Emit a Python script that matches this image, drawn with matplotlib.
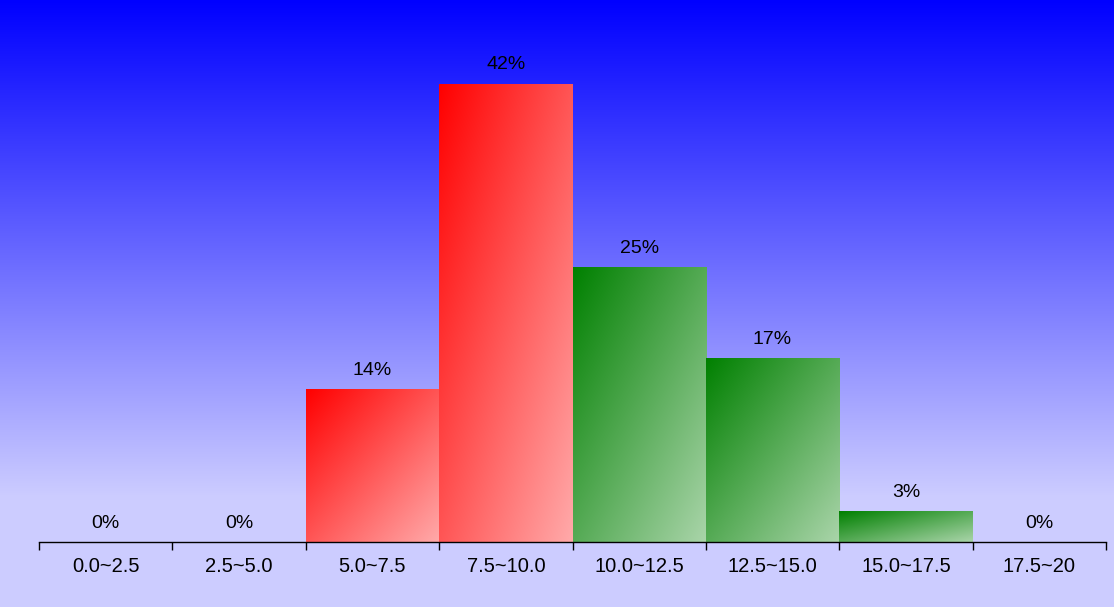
import numpy as np
import matplotlib
matplotlib.use('Agg')
import matplotlib.pyplot as plt
from matplotlib.colors import to_rgb

categories = ['0.0~2.5', '2.5~5.0', '5.0~7.5', '7.5~10.0',
              '10.0~12.5', '12.5~15.0', '15.0~17.5', '17.5~20']
percent = [0.0, 0.0, 13.9, 41.7, 25.0, 16.7, 2.8, 0.0]
labels = ['0%', '0%', '14%', '42%', '25%', '17%', '3%', '0%']
bar_colors = ['#ff0000', '#ff0000', '#ff0000', '#ff0000',
              '#008000', '#008000', '#008000', '#008000']

plt.rcParams['font.family'] = ['Liberation Sans', 'DejaVu Sans']

W, H = 1114, 607
fig = plt.figure(figsize=(W / 100, H / 100), dpi=100)

# background vertical gradient
bg = fig.add_axes([0, 0, 1, 1], zorder=0)
n = H
yy = np.clip(np.arange(n) / 495.0, 0, 1)
c_top = np.array([0.0, 0.0, 1.0])
c_bot = np.array([0.8, 0.8, 1.0])
grad = c_top[None, :] * (1 - yy[:, None]) + c_bot[None, :] * yy[:, None]
bg.imshow(grad[:, None, :], aspect='auto', extent=(0, 1, 0, 1), origin='upper')
bg.set_xlim(0, 1)
bg.set_ylim(0, 1)
bg.axis('off')

ax = fig.add_axes([39 / W, 1 - 542 / H, (1106 - 39) / W, 542 / H], zorder=1)
ax.patch.set_alpha(0)
x = np.arange(len(categories))
bars = ax.bar(x, percent, width=1.0, color='none', edgecolor='none')

uu, vv = np.meshgrid(np.linspace(0, 1, 200), np.linspace(0, 1, 200))
t = (uu + vv) / 2
for b, c in zip(bars, bar_colors):
    h = b.get_height()
    if h <= 0:
        continue
    c0 = np.array(to_rgb(c))
    c1 = c0 / 3 + 2 / 3
    img = c0 * (1 - t[..., None]) + c1 * t[..., None]
    im = ax.imshow(img, extent=(b.get_x(), b.get_x() + b.get_width(), 0, h),
                   origin='upper', aspect='auto', interpolation='bilinear', zorder=2)
    im.set_clip_path(b)

for xi, h, lab in zip(x, percent, labels):
    ax.annotate(lab, (xi, h), xytext=(0, 7.5), textcoords='offset points',
                ha='center', va='bottom', fontsize=14, color='black')

ax.set_xlim(-0.5, len(categories) - 0.5)
ax.set_ylim(0, 542 / 10.99)
ax.set_aspect('auto')
for s in ['left', 'right', 'top']:
    ax.spines[s].set_visible(False)
ax.spines['bottom'].set_color('black')
ax.spines['bottom'].set_linewidth(1)
ax.set_yticks([])
ax.set_xticks(np.arange(len(categories) + 1) - 0.5)
ax.set_xticklabels([])
ax.tick_params(axis='x', which='major', length=6, width=1, color='black')
ax.set_xticks(x, minor=True)
ax.set_xticklabels(categories, minor=True, fontsize=14.5)
ax.tick_params(axis='x', which='minor', length=0, pad=10.5)

fig.savefig('out.png', dpi=100)
